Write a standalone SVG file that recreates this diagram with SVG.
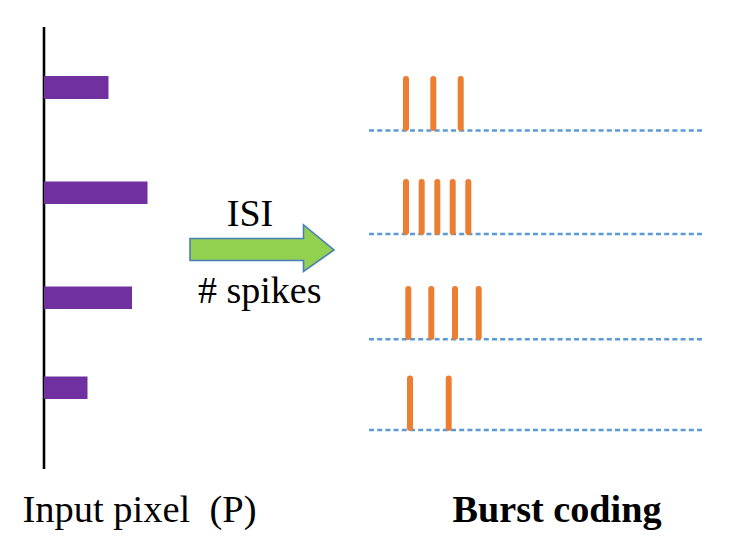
<svg xmlns="http://www.w3.org/2000/svg" width="729" height="548" viewBox="0 0 729 548">
<style>
.bar{fill:#7030A0}
.spike{stroke:#ED7D31;stroke-width:6;stroke-linecap:round}
.base{stroke:#5B9BD5;stroke-width:2.6;stroke-dasharray:5 3.2;fill:none}
.lbl{font-family:'Times New Roman',Tinos,'Nimbus Roman','Nimbus Roman No9 L','Liberation Serif','DejaVu Serif','Noto Serif',Times,serif;font-size:38px;fill:#000}
</style>
<rect width="729" height="548" fill="#fff"/>
<g id="axis">
<line x1="44" y1="27" x2="44" y2="469" stroke="#000" stroke-width="2.6"/>
</g>
<g id="bar1"><rect class="bar" x="44" y="76" width="64.5" height="23"/></g>
<g id="bar2"><rect class="bar" x="44" y="181.5" width="103.5" height="22.5"/></g>
<g id="bar3"><rect class="bar" x="44" y="286.5" width="88" height="22.5"/></g>
<g id="bar4"><rect class="bar" x="44" y="376.5" width="43.5" height="22.5"/></g>
<g id="connectors">
<path d="M190,238.5 L303.5,238.5 L303.5,225 L334,250 L303.5,271.5 L303.5,260.5 L190,260.5 Z" fill="#92D050" stroke="#4A7EBB" stroke-width="1.6" stroke-linejoin="miter"/>
</g>
<g id="isi-label"><text class="lbl" x="250" y="226" text-anchor="middle">ISI</text></g>
<g id="spikes-label"><text class="lbl" x="198" y="303">#&#160;spikes</text></g>
<g id="train1">
<line class="base" x1="369" y1="130.5" x2="704" y2="130.5"/>
<line class="spike" x1="406" y1="79" x2="406" y2="128"/>
<line class="spike" x1="433.3" y1="79" x2="433.3" y2="128"/>
<line class="spike" x1="460.7" y1="79" x2="460.7" y2="128"/>
</g>
<g id="train2">
<line class="base" x1="369" y1="234" x2="704" y2="234"/>
<line class="spike" x1="406" y1="182" x2="406" y2="232"/>
<line class="spike" x1="421.7" y1="182" x2="421.7" y2="232"/>
<line class="spike" x1="437.3" y1="182" x2="437.3" y2="232"/>
<line class="spike" x1="452.7" y1="182" x2="452.7" y2="232"/>
<line class="spike" x1="468.3" y1="182" x2="468.3" y2="232"/>
</g>
<g id="train3">
<line class="base" x1="369" y1="339.3" x2="704" y2="339.3"/>
<line class="spike" x1="408.3" y1="289" x2="408.3" y2="337"/>
<line class="spike" x1="431.3" y1="289" x2="431.3" y2="337"/>
<line class="spike" x1="455" y1="289" x2="455" y2="337"/>
<line class="spike" x1="478.7" y1="289" x2="478.7" y2="337"/>
</g>
<g id="train4">
<line class="base" x1="369" y1="430" x2="704" y2="430"/>
<line class="spike" x1="410" y1="378.5" x2="410" y2="428"/>
<line class="spike" x1="448.7" y1="378.5" x2="448.7" y2="428"/>
</g>
<g id="input-label"><text class="lbl" x="22.5" y="522" textLength="234" lengthAdjust="spacingAndGlyphs">Input pixel&#160;&#160;(P)</text></g>
<g id="burst-label"><text class="lbl" x="452.5" y="522" font-weight="bold" textLength="209" lengthAdjust="spacingAndGlyphs">Burst coding</text></g>
</svg>
